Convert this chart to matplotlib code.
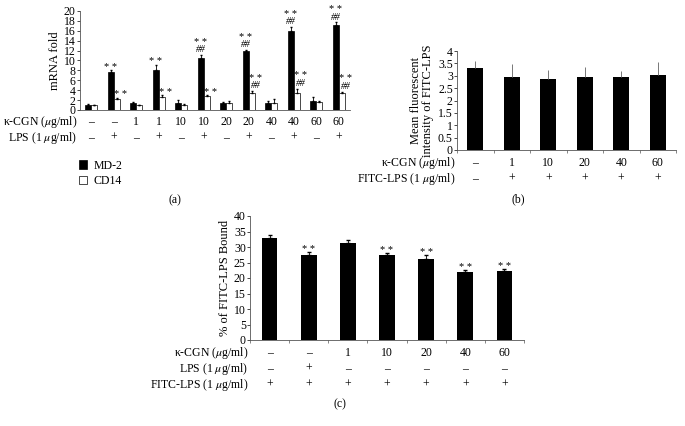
import matplotlib
matplotlib.use("Agg")
import matplotlib.pyplot as plt
import matplotlib.transforms as mtransforms
from matplotlib.patches import Patch
import numpy as np

plt.rcParams['font.family'] = ['Liberation Serif', 'DejaVu Serif']
plt.rcParams['mathtext.fontset'] = 'stix'
plt.rcParams['font.size'] = 8.5

# panel (a) data
cgn_a = ['–', '–', '1', '1', '10', '10', '20', '20', '40', '40', '60', '60']
lps_a = ['–', '+', '–', '+', '–', '+', '–', '+', '–', '+', '–', '+']
md2 = [1.0, 7.7, 1.4, 8.1, 1.4, 10.5, 1.4, 11.9, 1.5, 15.9, 1.8, 17.2]
md2_err = [0.15, 0.3, 0.2, 1.0, 0.7, 0.6, 0.15, 0.2, 0.25, 0.9, 0.8, 0.5]
cd14 = [1.0, 2.2, 1.0, 2.6, 1.1, 2.8, 1.4, 3.4, 1.5, 3.5, 1.7, 3.5]
cd14_err = [0.05, 0.3, 0.1, 0.4, 0.1, 0.15, 0.4, 0.4, 0.7, 0.8, 0.2, 0.2]
md2_stars = [0, 1, 0, 1, 0, 1, 0, 1, 0, 1, 0, 1]
md2_hash = [0, 0, 0, 0, 0, 1, 0, 1, 0, 1, 0, 1]
cd14_stars = [0, 1, 0, 1, 0, 1, 0, 1, 0, 1, 0, 1]
cd14_hash = [0, 0, 0, 0, 0, 0, 0, 1, 0, 1, 0, 1]

# panel (b) data
cgn_b = ['–', '1', '10', '20', '40', '60']
fitc_b = ['–', '+', '+', '+', '+', '+']
mfi = [3.3, 2.93, 2.85, 2.95, 2.93, 3.03]
mfi_err = [0.3, 0.55, 0.38, 0.42, 0.28, 0.52]

# panel (c) data
cgn_c = ['–', '–', '1', '10', '20', '40', '60']
lps_c = ['–', '+', '–', '–', '–', '–', '–']
fitc_c = ['+', '+', '+', '+', '+', '+', '+']
bound = [32.8, 27.5, 31.3, 27.3, 26.0, 21.8, 22.2]
bound_err = [1.2, 0.8, 0.8, 0.7, 1.3, 0.7, 0.6]
bound_stars = [0, 1, 0, 1, 1, 1, 1]

W, H = 685, 426
fig = plt.figure(figsize=(W / 100, H / 100), dpi=100)


def box(l, t, r, b):
    return [l / W, 1 - b / H, (r - l) / W, (b - t) / H]


def style(ax, n):
    for s in ['top', 'right']:
        ax.spines[s].set_visible(False)
    for s in ['left', 'bottom']:
        ax.spines[s].set_linewidth(0.6)
        ax.spines[s].set_color('#555555')
    ax.set_xlim(-0.5, n - 0.5)
    ax.set_xticks(np.arange(n + 1) - 0.5)
    ax.set_xticklabels([])
    ax.tick_params(axis='x', length=2, width=0.5, color='#555555')
    ax.tick_params(axis='y', length=2, width=0.5, pad=1, labelsize=8.5)


def rows(ax, labels, values, ys, xr):
    tr = mtransforms.blended_transform_factory(ax.transData, fig.transFigure)
    for lab, vals, y in zip(labels, values, ys):
        fig.text(xr / W, 1 - y / H, lab, ha='right', va='center')
        for i, v in enumerate(vals):
            ax.text(i, 1 - y / H, v, transform=tr, ha='center', va='center')


def marks(ax, xs, tops, stars, hashes, dx=0):
    for xi, top, s, h in zip(xs, tops, stars, hashes):
        off = 0.5
        if h:
            ax.annotate('##', (xi, top), xytext=(dx, off), textcoords='offset points',
                        ha='center', va='bottom', fontsize=7, style='italic')
            off += 7
        if s:
            ax.annotate('* *', (xi, top), xytext=(dx, off - 1.5), textcoords='offset points',
                        ha='center', va='bottom', fontsize=7.5)


# ---- (a)
ax = fig.add_axes(box(80, 11, 350, 110))
x = np.arange(len(md2))
bw = 0.27
ax.bar(x - 0.14, md2, bw, color='black', edgecolor='black', linewidth=0.5)
ax.bar(x + 0.14, cd14, bw, color='white', edgecolor='black', linewidth=0.5)
ax.errorbar(x - 0.14, md2, yerr=[np.zeros(len(md2)), md2_err], fmt='none',
            ecolor='black', elinewidth=0.6, capsize=1)
ax.errorbar(x + 0.14, cd14, yerr=[np.zeros(len(cd14)), cd14_err], fmt='none',
            ecolor='black', elinewidth=0.6, capsize=1)
marks(ax, x - 0.14, np.add(md2, md2_err), md2_stars, md2_hash)
marks(ax, x + 0.14, np.add(cd14, cd14_err), cd14_stars, cd14_hash, dx=2.5)
style(ax, len(md2))
ax.tick_params(axis='x', length=0)
ax.set_ylim(0, 20)
ax.set_yticks(range(0, 21, 2))
ax.set_ylabel('mRNA fold', fontsize=9, labelpad=2)
rows(ax, ['κ-CGN ($\\mu$g/ml)', 'LPS (1 $\\mu$g/ml)'], [cgn_a, lps_a], [122, 138], 77)
handles = [Patch(facecolor='black', edgecolor='black', linewidth=0.5),
           Patch(facecolor='white', edgecolor='black', linewidth=0.5)]
fig.legend(handles, ['MD-2', 'CD14'], loc='upper left', bbox_to_anchor=(68 / W, 1 - 149 / H),
           frameon=False, fontsize=8.5, handlelength=0.7, handleheight=0.7,
           handletextpad=0.6, labelspacing=0.3)
fig.text(175 / W, 1 - 200 / H, '(a)', ha='center', va='center')

# ---- (b)
ax = fig.add_axes(box(457, 51, 676, 150))
xb = np.arange(len(mfi))
ax.bar(xb, mfi, 0.45, color='black')
ax.errorbar(xb, mfi, yerr=[np.zeros(len(mfi)), mfi_err], fmt='none',
            ecolor='#777777', elinewidth=0.7, capsize=0)
style(ax, len(mfi))
ax.set_ylim(0, 4)
ax.set_yticks(np.arange(0, 4.01, 0.5))
ax.set_yticklabels(['0', '0.5', '1', '1.5', '2', '2.5', '3', '3.5', '4'])
ax.set_ylabel('Mean fluorescent\nintensity of FITC-LPS', fontsize=9, labelpad=3, linespacing=1.0)
rows(ax, ['κ-CGN ($\\mu$g/ml)', 'FITC-LPS (1 $\\mu$g/ml)'], [cgn_b, fitc_b], [163, 179], 455)
fig.text(518 / W, 1 - 199 / H, '(b)', ha='center', va='center')

# ---- (c)
ax = fig.add_axes(box(250, 216, 524, 340))
xc = np.arange(len(bound))
ax.bar(xc, bound, 0.4, color='black')
ax.errorbar(xc, bound, yerr=[np.zeros(len(bound)), bound_err], fmt='none',
            ecolor='black', elinewidth=0.6, capsize=1.5)
marks(ax, xc, np.add(bound, bound_err), bound_stars, [0] * len(bound))
style(ax, len(bound))
ax.set_ylim(0, 40)
ax.set_yticks(range(0, 41, 5))
ax.set_ylabel('% of FITC-LPS Bound', fontsize=9, labelpad=2)
rows(ax, ['κ-CGN ($\\mu$g/ml)', 'LPS (1 $\\mu$g/ml)', 'FITC-LPS (1 $\\mu$g/ml)'],
     [cgn_c, lps_c, fitc_c], [353, 369, 385], 248)
fig.text(340 / W, 1 - 404 / H, '(c)', ha='center', va='center')

fig.savefig('out.png', dpi=100)
